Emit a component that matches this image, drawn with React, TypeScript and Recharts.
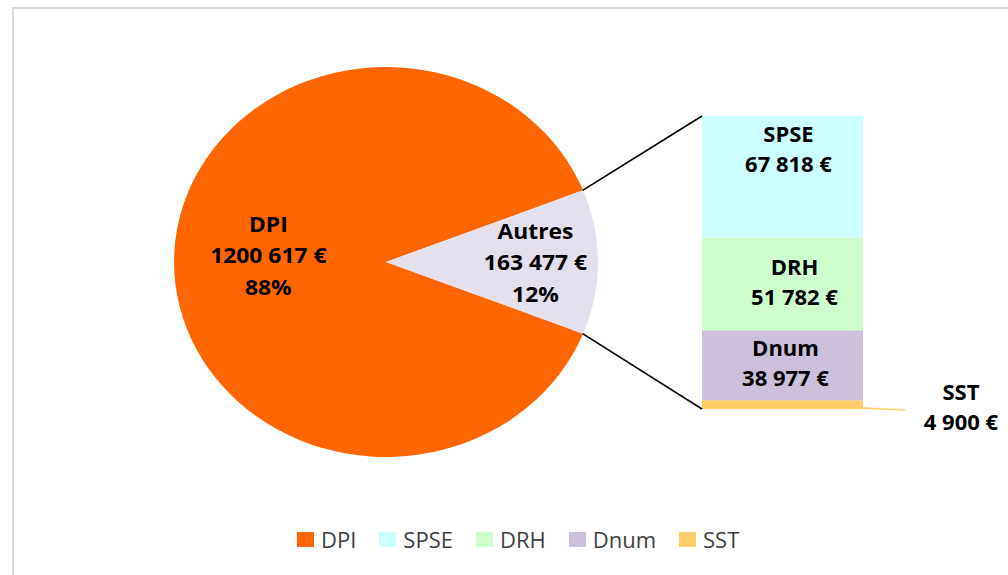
import { PieChart, Pie, Cell, BarChart, Bar, XAxis, YAxis } from 'recharts'

// values
const pieNames = ['DPI', 'Autres']
const pieValues = [1200617, 163477]
const barNames = ['SPSE', 'DRH', 'Dnum', 'SST']
const barValues = [67818, 51782, 38977, 4900]
const legendNames = ['DPI', 'SPSE', 'DRH', 'Dnum', 'SST']

const colors: Record<string, string> = {
  DPI: '#FF6600',
  Autres: '#E4DFEC',
  SPSE: '#CCFFFF',
  DRH: '#CCFFCC',
  Dnum: '#CCC0DA',
  SST: '#FFCC66',
}

const FONT = '"Open Sans", "Noto Sans", sans-serif'
const RADIAN = Math.PI / 180

// pie geometry (the reference pie is a little wider than tall)
const PIE_CX = 385.5
const PIE_CY = 262
const PIE_R = 195
const PIE_SX = 1.087
const PIE_BOX = 400

// bar geometry
const BAR_LEFT = 702
const BAR_TOP = 116
const BAR_W = 161
const BAR_H = 293

const pieTotal = pieValues.reduce((a, b) => a + b, 0)
const halfAngle = (pieValues[1] / pieTotal) * 180

const pieData = pieNames.map((name, i) => ({ name, value: pieValues[i] }))
const barRow: Record<string, string | number> = { name: 'Autres' }
barNames.forEach((n, i) => (barRow[n] = barValues[i]))
const barData = [barRow]

// "1200 617 €" style, like the Excel format
function euro(v: number) {
  const k = Math.floor(v / 1000)
  const r = String(v % 1000).padStart(3, '0')
  return (k > 0 ? `${k} ${r}` : String(v)) + ' €'
}

function renderPieLabel(p: any) {
  const big = p.percent > 0.5
  const r = p.outerRadius * (big ? 0.555 : 0.705)
  const x = p.cx + r * Math.cos(-p.midAngle * RADIAN)
  const y = p.cy + r * Math.sin(-p.midAngle * RADIAN) + (big ? 1 : 8)
  return (
    <text x={x} y={y} textAnchor="middle" fontFamily={FONT} fontWeight={700} fontSize={21} fill="#000">
      <tspan x={x} dy={-31}>{p.name}</tspan>
      <tspan x={x} dy={31}>{euro(p.value)}</tspan>
      <tspan x={x} dy={32}>{Math.round(p.percent * 100)}%</tspan>
    </text>
  )
}

const labelShift: Record<string, { dx: number; dy: number }> = {
  SPSE: { dx: 6, dy: -26 },
  DRH: { dx: 12, dy: 0 },
  Dnum: { dx: 3, dy: 0 },
}

function renderBarLabel(p: any, name: string) {
  const { x, y, width, height } = p
  const value = barValues[barNames.indexOf(name)]
  if (name === 'SST') {
    const lx = x + width + 98
    return (
      <g>
        <line x1={x + width} y1={y + height - 1} x2={x + width + 42} y2={y + height + 1} stroke={colors.SST} strokeWidth={1.5} />
        <text x={lx} y={y} textAnchor="middle" fontFamily={FONT} fontWeight={700} fontSize={22} fill="#000">
          <tspan x={lx} dy={0}>{name}</tspan>
          <tspan x={lx} dy={30}>{euro(value)}</tspan>
        </text>
      </g>
    )
  }
  const s = labelShift[name]
  const cx = x + width / 2 + s.dx
  const by = y + height / 2 - 9 + s.dy
  return (
    <text x={cx} y={by} textAnchor="middle" fontFamily={FONT} fontWeight={700} fontSize={22} fill="#000">
      <tspan x={cx} dy={0}>{name}</tspan>
      <tspan x={cx} dy={30}>{euro(value)}</tspan>
    </text>
  )
}

export default function App() {
  const ex = PIE_CX + PIE_R * PIE_SX * Math.cos(halfAngle * RADIAN)
  const eyTop = PIE_CY - PIE_R * Math.sin(halfAngle * RADIAN)
  const eyBot = PIE_CY + PIE_R * Math.sin(halfAngle * RADIAN)

  return (
    <div style={{ position: 'absolute', left: 0, top: 0, width: 1008, height: 575, overflow: 'hidden', background: '#fff' }}>
      <div
        style={{
          position: 'absolute',
          left: 12,
          top: 7,
          width: 1010,
          height: 580,
          border: '2px solid #d9d9d9',
          boxSizing: 'border-box',
        }}
      />

      <div
        style={{
          position: 'absolute',
          left: PIE_CX - PIE_BOX / 2,
          top: PIE_CY - PIE_BOX / 2,
          width: PIE_BOX,
          height: PIE_BOX,
          transform: `scaleX(${PIE_SX})`,
          transformOrigin: '50% 50%',
        }}
      >
        <PieChart width={PIE_BOX} height={PIE_BOX} margin={{ top: 0, right: 0, bottom: 0, left: 0 }}>
          <Pie
            data={pieData}
            dataKey="value"
            nameKey="name"
            cx="50%"
            cy="50%"
            outerRadius={PIE_R}
            startAngle={halfAngle}
            endAngle={halfAngle + 360}
            stroke="none"
            label={renderPieLabel}
            labelLine={false}
            isAnimationActive={false}
          >
            {pieData.map((d) => (
              <Cell key={d.name} fill={colors[d.name]} />
            ))}
          </Pie>
        </PieChart>
      </div>

      <div style={{ position: 'absolute', left: BAR_LEFT, top: BAR_TOP }}>
        <BarChart
          width={BAR_W + 150}
          height={BAR_H + 40}
          data={barData}
          margin={{ top: 0, right: 150, bottom: 40, left: 0 }}
          barCategoryGap={0}
          barGap={0}
        >
          <XAxis dataKey="name" hide />
          <YAxis hide domain={[0, pieValues[1]]} />
          {[...barNames].reverse().map((n) => (
            <Bar
              key={n}
              dataKey={n}
              stackId="autres"
              fill={colors[n]}
              isAnimationActive={false}
              label={(p: any) => renderBarLabel(p, n)}
            />
          ))}
        </BarChart>
      </div>

      <svg style={{ position: 'absolute', left: 0, top: 0 }} width={1008} height={575}>
        <line x1={ex} y1={eyTop} x2={BAR_LEFT} y2={BAR_TOP} stroke="#000" strokeWidth={1.6} />
        <line x1={ex} y1={eyBot} x2={BAR_LEFT} y2={BAR_TOP + BAR_H} stroke="#000" strokeWidth={1.6} />
      </svg>

      <div
        style={{
          position: 'absolute',
          left: 297,
          top: 524,
          display: 'flex',
          alignItems: 'center',
          fontFamily: FONT,
          fontSize: 22,
          color: '#404040',
        }}
      >
        {legendNames.map((n) => (
          <div key={n} style={{ display: 'flex', alignItems: 'center', marginRight: 23 }}>
            <span style={{ width: 17, height: 15, background: colors[n], marginRight: 7, display: 'inline-block' }} />
            <span>{n}</span>
          </div>
        ))}
      </div>
    </div>
  )
}
